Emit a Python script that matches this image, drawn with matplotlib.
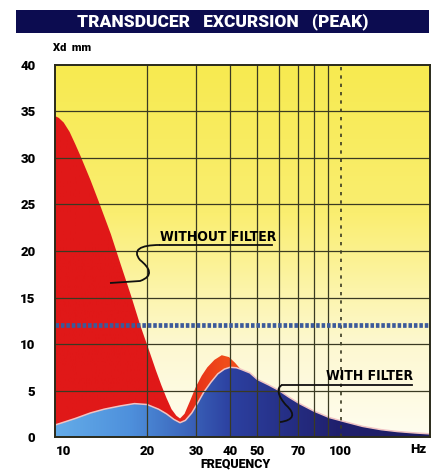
import numpy as np
import matplotlib.pyplot as plt
from matplotlib.colors import LinearSegmentedColormap
from matplotlib.path import Path
from matplotlib.patches import PathPatch

# excursion without filter (Hz, mm)
freq_red = [9.3, 9.6, 10.0, 10.5, 11.0, 11.5, 12.5, 13.5, 14.8, 16.0, 17.5, 18.9,
            20.5, 21.5, 22.5, 23.5, 24.5, 25.5, 26.3, 27.3, 28.5, 30.0, 31.5, 33.0,
            35.0, 37.2, 39.5, 41.5, 43.5]
xd_red = [34.5, 34.3, 33.8, 32.8, 31.5, 30.2, 27.6, 25.0, 21.8, 18.7, 15.2, 12.0,
          9.0, 7.2, 5.6, 4.2, 3.0, 2.3, 2.0, 2.5, 3.8, 5.4, 6.6, 7.5,
          8.3, 8.8, 8.6, 8.0, 7.3]

# excursion with filter
freq_blue = [9.3, 10, 11, 12.5, 14, 16, 18, 20, 22, 23.5, 25, 26.3, 27.5, 29, 30.5,
             32, 34, 36, 38, 39.8, 42, 43.5, 47, 50, 55, 60, 65, 71, 80, 91, 105,
             120, 140, 160, 185, 210]
xd_blue = [1.3, 1.6, 2.0, 2.6, 3.0, 3.35, 3.6, 3.5, 3.0, 2.5, 1.9, 1.55, 1.8, 2.6, 3.7,
           4.8, 5.9, 6.8, 7.3, 7.5, 7.45, 7.3, 6.9, 6.2, 5.6, 5.0, 4.3, 3.6, 2.8, 2.1, 1.6,
           1.15, 0.8, 0.6, 0.45, 0.35]

limit_xd = 12
xticks = [10, 20, 30, 40, 50, 70, 100]
yticks = [0, 5, 10, 15, 20, 25, 30, 35, 40]
vgrid = [20, 30, 40, 50, 60, 70, 80, 90]

fig = plt.figure(figsize=(4.33, 4.70), dpi=100)
fig.patch.set_facecolor('white')

# title bar
tb = fig.add_axes([0.037, 0.930, 0.954, 0.049])
tb.set_facecolor('#0c0c50')
tb.set_xticks([]); tb.set_yticks([])
for s in tb.spines.values():
    s.set_visible(False)
tb.text(0.5, 0.47, 'TRANSDUCER   EXCURSION   (PEAK)', color='white', ha='center',
        va='center', fontsize=12.5, fontweight='black', family='Roboto')

ax = fig.add_axes([0.127, 0.070, 0.866, 0.792])
ax.set_xscale('log')
ax.set_xlim(9.3, 210)
ax.set_ylim(0, 40)

# background gradient
bg = LinearSegmentedColormap.from_list('bg', [(0, '#fffdf0'), (0.25, '#fdf8d0'),
                                              (0.4, '#fcf4a8'), (0.6, '#faee70'),
                                              (1, '#f7ea50')])
ax.imshow(np.linspace(0, 1, 256).reshape(-1, 1), cmap=bg, aspect='auto',
          extent=[0, 1, 0, 1], transform=ax.transAxes, origin='lower', zorder=0)

# red fill with gradient
red_poly = ax.fill_between(freq_red, xd_red, 0, color='none', zorder=1)
rcm = LinearSegmentedColormap.from_list('r', [(0, '#e01818'), (0.3, '#e01818'),
                                             (0.45, '#f04c1a'), (1, '#f04c1a')])
im = ax.imshow(np.linspace(0, 1, 256).reshape(1, -1), cmap=rcm, aspect='auto',
               extent=[0, 1, 0, 1], transform=ax.transAxes, zorder=1)
im.set_clip_path(red_poly.get_paths()[0], transform=ax.transData)

# blue fill with gradient
blue_poly = ax.fill_between(freq_blue, xd_blue, 0, color='none', zorder=2)
bcm = LinearSegmentedColormap.from_list('b', [(0, '#64ace8'), (0.2, '#4e90dc'),
                                             (0.33, '#3e6cc0'), (0.47, '#2c40a0'),
                                             (0.75, '#20206e'), (1, '#1c1c60')])
im2 = ax.imshow(np.linspace(0, 1, 256).reshape(1, -1), cmap=bcm, aspect='auto',
                extent=[0, 1, 0, 1], transform=ax.transAxes, zorder=2)
im2.set_clip_path(blue_poly.get_paths()[0], transform=ax.transData)
ax.plot(freq_blue, xd_blue, color='#f0c4c4', lw=1.1, zorder=3)

# grid
gcol = '#3a3a22'
for f in vgrid:
    ax.axvline(f, color=gcol, lw=0.9, zorder=4)
ax.axvline(100, color=gcol, lw=1.2, ls=(0, (2, 3)), zorder=4)
for y in yticks[1:-1]:
    ax.axhline(y, color=gcol, lw=0.9, zorder=4)

# limit line (dotted blue)
ax.axhline(limit_xd, color='#3c5a9a', lw=3.4, ls=(0, (0.75, 0.4)), zorder=5)

for s in ax.spines.values():
    s.set_color('#2a2a1a')
    s.set_linewidth(1.4)
    s.set_zorder(6)

ax.set_xticks(xticks)
ax.set_xticklabels([str(t) for t in xticks])
ax.xaxis.set_minor_locator(plt.NullLocator())
ax.set_yticks(yticks)
ax.tick_params(length=0, labelsize=9.5, pad=6)
for lab in ax.get_xticklabels() + ax.get_yticklabels():
    lab.set_fontweight('black')
    lab.set_family('Roboto')
ax.tick_params(axis='y', pad=14)

fig.text(0.122, 0.898, 'Xd  mm', fontsize=8, fontweight='black', family='Roboto',
         va='center', ha='left')
fig.text(0.985, 0.044, 'Hz', fontsize=9.5, fontweight='black', family='Roboto',
         va='center', ha='right')
fig.text(0.545, 0.026, 'FREQUENCY', fontsize=9, fontweight='black', family='Roboto',
         va='top', ha='center')

# annotations (axes fraction coordinates)
def px(x, y):
    return ((x - 55) / 375.0, (437 - y) / 372.0)

lab_font = dict(family='DejaVu Sans', fontstretch='condensed', fontweight='bold',
                fontsize=10)
ax.text(*px(218, 237), 'WITHOUT FILTER', transform=ax.transAxes, ha='center',
        va='center', zorder=7, **lab_font)
ax.text(*px(370, 376), 'WITH FILTER', transform=ax.transAxes, ha='center',
        va='center', zorder=7, **lab_font)

def leader(pts):
    verts = [px(*p) for p in pts]
    codes = [Path.MOVETO] + [Path.CURVE4] * (len(verts) - 1)
    ax.add_patch(PathPatch(Path(verts, codes), fc='none', ec='#101010', lw=1.3,
                           transform=ax.transAxes, zorder=7))

ax.plot(*zip(px(160, 245), px(272, 245)), color='#101010', lw=1.3,
        transform=ax.transAxes, zorder=7)
leader([(160, 245), (140, 245), (132, 250), (140, 260),
        (150, 268), (154, 276), (140, 281), (110, 283),
        (110, 283), (110, 283)])
ax.plot(*zip(px(282, 385), px(412, 385)), color='#101010', lw=1.3,
        transform=ax.transAxes, zorder=7)
leader([(282, 385), (276, 388), (278, 396), (286, 405),
        (296, 414), (294, 420), (280, 422)])

fig.savefig('out.png', dpi=100)
